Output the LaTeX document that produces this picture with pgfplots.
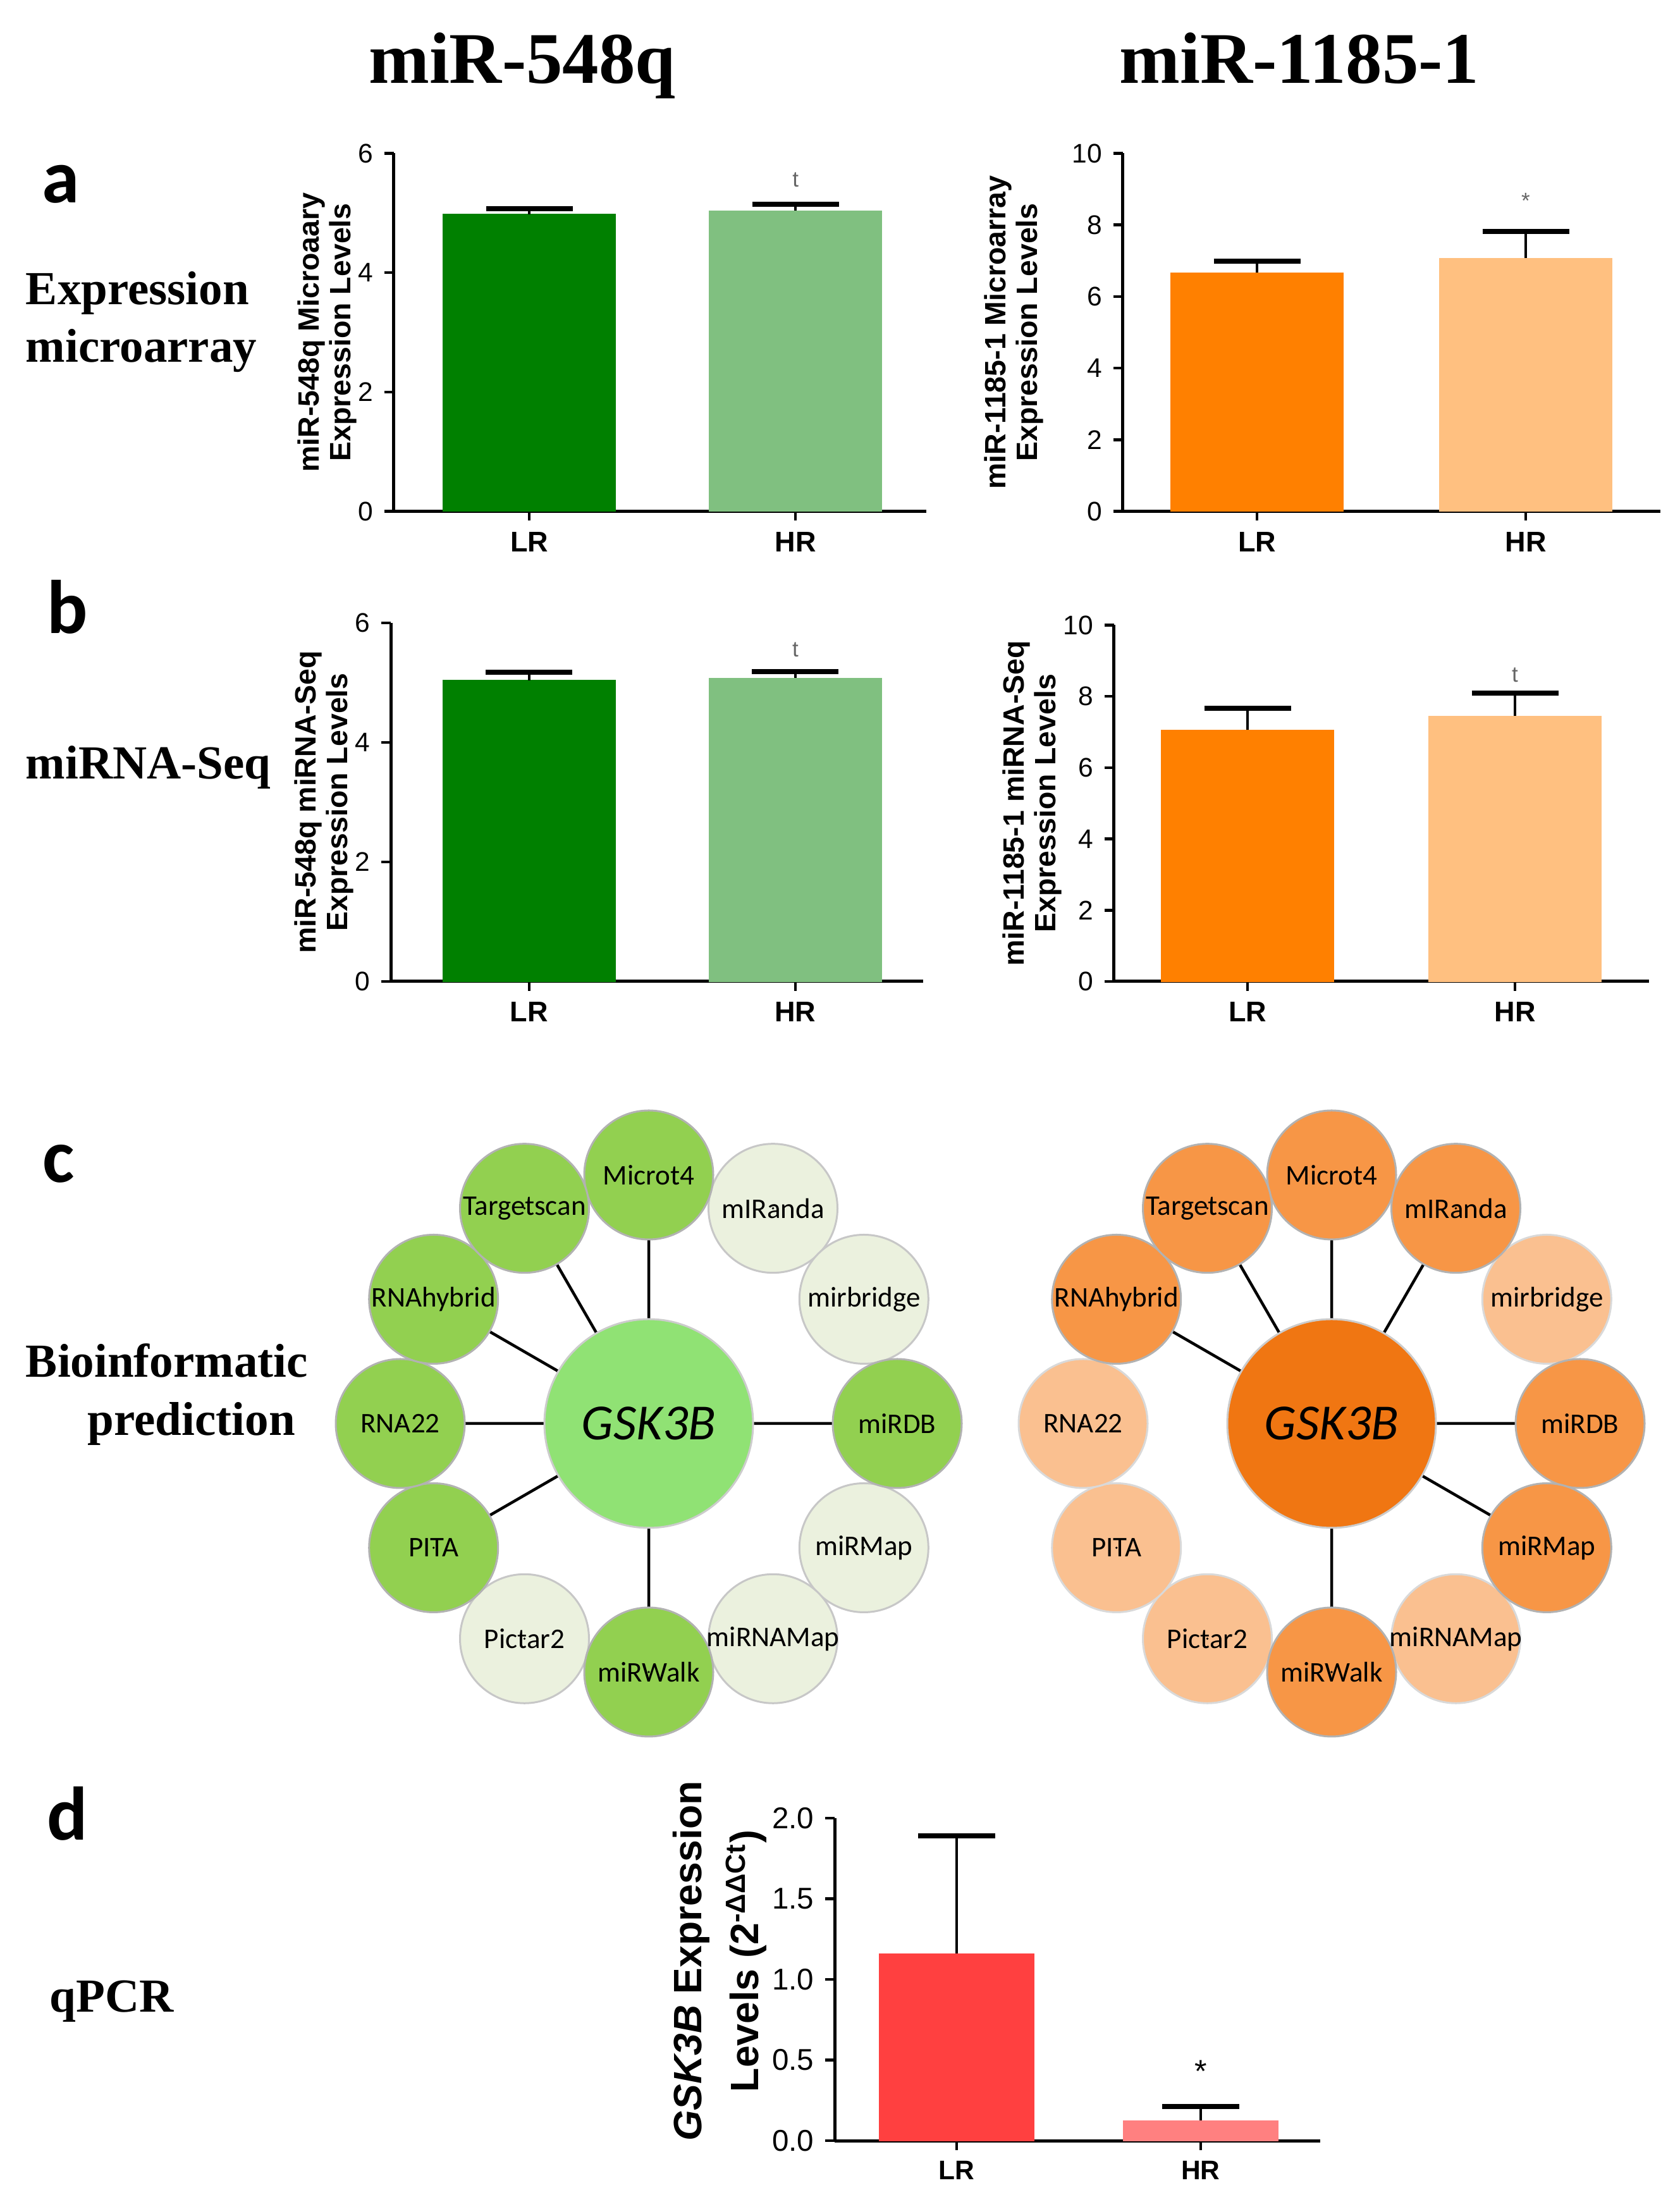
\documentclass[border=0pt]{standalone}
\usepackage{fontspec}
\setmainfont{Liberation Serif}
\setsansfont{Liberation Sans}
\newfontfamily\calib{Carlito}
\usepackage{pgfplots}
\pgfplotsset{compat=1.18}

\definecolor{dgreen}{RGB}{0,128,0}
\definecolor{lgreen}{RGB}{128,192,128}
\definecolor{dorange}{RGB}{255,128,0}
\definecolor{lorange}{RGB}{255,192,128}
\definecolor{dred}{RGB}{255,64,64}
\definecolor{lred}{RGB}{255,128,128}
\definecolor{gAct}{RGB}{146,208,80}
\definecolor{gCen}{RGB}{144,226,116}
\definecolor{gPale}{RGB}{235,241,222}
\definecolor{oAct}{RGB}{247,150,70}
\definecolor{oCen}{RGB}{240,118,18}
\definecolor{oPale}{RGB}{250,192,144}

\pgfplotsset{
  barax/.style={
    scale only axis, anchor=south west, ymin=0,
    axis x line*=bottom, axis y line*=left,
    axis line style={line width=1pt,-},
    xtick={0,1}, xticklabels={LR,HR},
    tick align=outside, major tick length=3pt,
    tick style={black, line width=0.9pt},
    minor tick num=0,
    xticklabel style={font=\sffamily\bfseries\fontsize{9}{10}\selectfont},
    yticklabel style={font=\sffamily\fontsize{8.5}{9}\selectfont},
    /pgf/number format/assume math mode=true,
    ylabel style={font=\sffamily\bfseries\fontsize{9.3}{10}\selectfont, align=center, anchor=center},
    clip=false,
  },
  errsty/.style={error bars/.cd, y dir=plus, y explicit,
    error bar style={draw=black, line width=0.9pt},
    error mark options={rotate=90, draw=black, line width=1.6pt, mark size=#1}},
  circ/.style={only marks, mark=*, mark size=#1},
  lab/.style={only marks, mark=*, mark size=0.1pt, mark options={draw=none, fill=none},
    nodes near coords, point meta=explicit symbolic,
    every node near coord/.append style={anchor=center, text=black, inner sep=0pt}},
}

\begin{document}
\begin{tikzpicture}
\path[use as bounding box] (0,0) rectangle (531.2pt,696.4pt);

% ---------- titles and row labels ----------
\node[anchor=base, font=\bfseries\fontsize{23}{26}\selectfont] at (165.2pt,670pt) {miR-548q};
\node[anchor=base, font=\bfseries\fontsize{23}{26}\selectfont] at (411pt,670pt) {miR-1185-1};

\begin{scope}[every node/.style={anchor=base west, font=\bfseries\fontsize{15}{18}\selectfont, inner sep=0pt}]
\node at (8pt,600pt) {Expression};
\node at (8pt,581.8pt) {microarray};
\node at (8pt,450pt) {miRNA-Seq};
\node at (8pt,260.8pt) {Bioinformatic};
\node at (27.6pt,242.4pt) {prediction};
\node at (15.6pt,60pt) {qPCR};
\end{scope}

\begin{scope}[every node/.style={anchor=base west, font=\calib\bfseries\fontsize{24}{26}\selectfont, inner sep=0pt}]
\node at (13pt,632.2pt) {a};
\node at (14.6pt,496pt) {b};
\node at (13.4pt,322.5pt) {c};
\node at (14.6pt,114.4pt) {d};
\end{scope}

% ---------- panel a, left ----------
\begin{axis}[barax, at={(124.5pt,534.7pt)}, width=168.4pt, height=113.2pt,
  xmin=-0.51, xmax=1.49, ymax=6, ytick={0,2,4,6},
  ylabel={miR-548q Microaary\\Expression Levels},
  ylabel style={at={(axis description cs:-0.125,0.5)}}]
\addplot[ybar, bar width=54.6pt, bar shift=0pt, fill=dgreen, draw=dgreen, line width=0.1pt, errsty=13.7pt]
  coordinates {(0,4.98) +- (0,0.09)};
\addplot[ybar, bar width=54.6pt, bar shift=0pt, fill=lgreen, draw=lgreen, line width=0.1pt, errsty=13.7pt]
  coordinates {(1,5.04) +- (0,0.11)};
\node[font=\sffamily\fontsize{7}{7}\selectfont, text=black!60] at (axis cs:1,5.56) {t};
\end{axis}

% ---------- panel a, right ----------
\begin{axis}[barax, at={(355.1pt,534.7pt)}, width=170pt, height=113.2pt,
  xmin=-0.5, xmax=1.5, ymax=10, ytick={0,2,4,6,8,10},
  ylabel={miR-1185-1 Microarray\\Expression Levels},
  ylabel style={at={(axis description cs:-0.202,0.5)}}]
\addplot[ybar, bar width=54.6pt, bar shift=0pt, fill=dorange, draw=dorange, line width=0.1pt, errsty=13.7pt]
  coordinates {(0,6.67) +- (0,0.32)};
\addplot[ybar, bar width=54.6pt, bar shift=0pt, fill=lorange, draw=lorange, line width=0.1pt, errsty=13.7pt]
  coordinates {(1,7.07) +- (0,0.74)};
\node[font=\sffamily\fontsize{7}{7}\selectfont, text=black!60] at (axis cs:1,8.67) {*};
\end{axis}

% ---------- panel b, left ----------
\begin{axis}[barax, at={(123.6pt,386pt)}, width=168.4pt, height=113.4pt,
  xmin=-0.52, xmax=1.48, ymax=6, ytick={0,2,4,6},
  ylabel={miR-548q miRNA-Seq\\Expression Levels},
  ylabel style={at={(axis description cs:-0.125,0.5)}}]
\addplot[ybar, bar width=54.6pt, bar shift=0pt, fill=dgreen, draw=dgreen, line width=0.1pt, errsty=13.7pt]
  coordinates {(0,5.04) +- (0,0.13)};
\addplot[ybar, bar width=54.6pt, bar shift=0pt, fill=lgreen, draw=lgreen, line width=0.1pt, errsty=13.7pt]
  coordinates {(1,5.08) +- (0,0.11)};
\node[font=\sffamily\fontsize{7}{7}\selectfont, text=black!60] at (axis cs:1,5.55) {t};
\end{axis}

% ---------- panel b, right ----------
\begin{axis}[barax, at={(352.3pt,386pt)}, width=169.2pt, height=112.7pt,
  xmin=-0.5, xmax=1.5, ymax=10, ytick={0,2,4,6,8,10},
  ylabel={miR-1185-1 miRNA-Seq\\Expression Levels},
  ylabel style={at={(axis description cs:-0.152,0.5)}}]
\addplot[ybar, bar width=54.6pt, bar shift=0pt, fill=dorange, draw=dorange, line width=0.1pt, errsty=13.7pt]
  coordinates {(0,7.06) +- (0,0.60)};
\addplot[ybar, bar width=54.6pt, bar shift=0pt, fill=lorange, draw=lorange, line width=0.1pt, errsty=13.7pt]
  coordinates {(1,7.45) +- (0,0.64)};
\node[font=\sffamily\fontsize{7}{7}\selectfont, text=black!60] at (axis cs:1,8.6) {t};
\end{axis}

% ---------- panel d ----------
\begin{axis}[barax, at={(264pt,19.4pt)}, width=153.6pt, height=102pt,
  xmin=-0.5, xmax=1.49, ymax=2, ytick={0,0.5,1,1.5,2},
  yticklabel style={font=\sffamily\fontsize{9.5}{10}\selectfont,
    /pgf/number format/.cd, fixed, fixed zerofill, precision=1},
  xticklabel style={font=\sffamily\bfseries\fontsize{8.5}{9}\selectfont},
  ylabel={\textit{GSK3B} Expression\\Levels (2\textsuperscript{-ΔΔCt})},
  ylabel style={font=\sffamily\bfseries\fontsize{12.5}{18}\selectfont, at={(axis description cs:-0.236,0.557)}}]
\addplot[ybar, bar width=49pt, bar shift=0pt, fill=dred, draw=dred, line width=0.1pt, errsty=12.2pt]
  coordinates {(0,1.16) +- (0,0.73)};
\addplot[ybar, bar width=49pt, bar shift=0pt, fill=lred, draw=lred, line width=0.1pt, errsty=12.2pt]
  coordinates {(1,0.125) +- (0,0.085)};
\node[font=\sffamily\fontsize{10}{10}\selectfont] at (axis cs:1,0.43) {*};
\end{axis}

% ---------- panel c: networks ----------
\begin{axis}[at={(0pt,0pt)}, anchor=south west, x=0.2pt, y=0.2pt,
  xmin=0, xmax=2656, ymin=0, ymax=3482, hide axis, clip=false]
% spokes (left)
\addplot[black, line width=0.9pt, line join=round, line cap=round, mark=none] coordinates {
 (1026,1231) (1026,1624) (1026,1231) (1419,1231) (1026,1231) (1026,838)
 (1026,1231) (685.7,1034.5) (1026,1231) (633,1231) (1026,1231) (685.7,1427.5)
 (1026,1231) (829.5,1571.3) (1026,1231)};
% spokes (right)
\addplot[black, line width=0.9pt, line join=round, line cap=round, mark=none] coordinates {
 (2106,1231) (2106,1624) (2106,1231) (2302.5,1571.3) (2106,1231) (2499,1231)
 (2106,1231) (2446.3,1034.5) (2106,1231) (2106,838) (2106,1231) (1765.7,1427.5)
 (2106,1231) (1909.5,1571.3) (2106,1231)};
% left pale
\addplot[circ=20.4pt, mark options={fill=gPale, draw=black!22, line width=0.6pt}] table {
x y
1222.5 1571.3
1366.3 1427.5
1366.3 1034.5
1222.5 890.7
829.5 890.7
};
% left active
\addplot[circ=20.4pt, mark options={fill=gAct, draw=black!30, line width=0.6pt}] table {
x y
1026 1624
1419 1231
685.7 1034.5
633 1231
685.7 1427.5
829.5 1571.3
1026 838
};
% left centre
\addplot[circ=33pt, mark options={fill=gCen, draw=black!20, line width=0.6pt}] table {
x y
1026 1231
};
% right pale
\addplot[circ=20.4pt, mark options={fill=oPale, draw=black!15, line width=0.6pt}] table {
x y
2446.3 1427.5
2302.5 890.7
1909.5 890.7
1765.7 1034.5
1713 1231
};
% right active
\addplot[circ=20.4pt, mark options={fill=oAct, draw=black!30, line width=0.6pt}] table {
x y
2106 1624
2302.5 1571.3
2499 1231
2446.3 1034.5
1765.7 1427.5
1909.5 1571.3
2106 838
};
% right centre
\addplot[circ=33pt, mark options={fill=oCen, draw=black!20, line width=0.6pt}] table {
x y
2106 1231
};
% labels
\addplot[lab, every node near coord/.append style={font=\calib\fontsize{9}{10}\selectfont}] table[meta=label] {
x y label
1026 1624 Microt4
1222.5 1571.3 mIRanda
1366.3 1427.5 mirbridge
1419 1231 miRDB
1366.3 1034.5 miRMap
1222.5 890.7 miRNAMap
1026 838 miRWalk
829.5 890.7 Pictar2
685.7 1034.5 PITA
633 1231 RNA22
685.7 1427.5 RNAhybrid
829.5 1571.3 Targetscan
2106 1624 Microt4
2302.5 1571.3 mIRanda
2446.3 1427.5 mirbridge
2499 1231 miRDB
2446.3 1034.5 miRMap
2302.5 890.7 miRNAMap
2106 838 miRWalk
1909.5 890.7 Pictar2
1765.7 1034.5 PITA
1713 1231 RNA22
1765.7 1427.5 RNAhybrid
1909.5 1571.3 Targetscan
};
\addplot[lab, every node near coord/.append style={font=\calib\itshape\fontsize{16}{18}\selectfont}] table[meta=label] {
x y label
1026 1231 GSK3B
2106 1231 GSK3B
};
\end{axis}
\end{tikzpicture}
\end{document}
